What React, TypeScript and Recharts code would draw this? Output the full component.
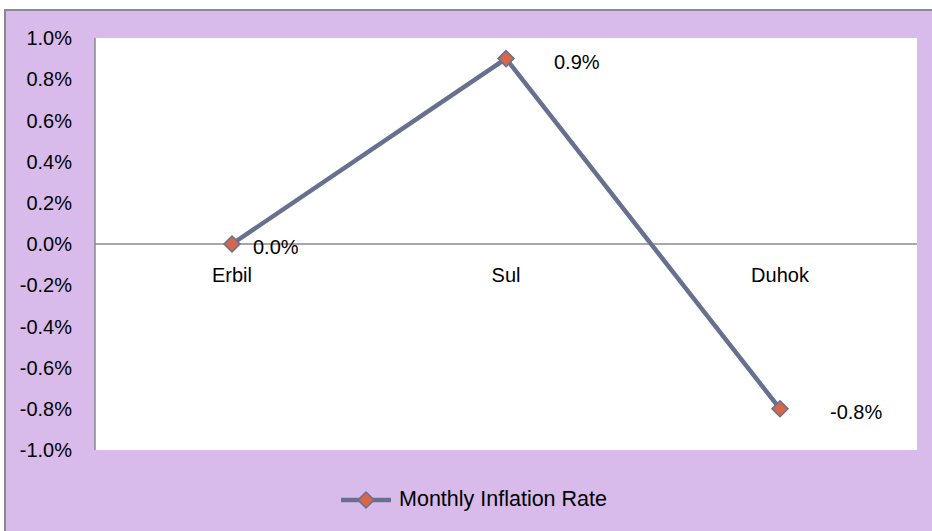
import { CartesianGrid, LabelList, Legend, Line, LineChart, ReferenceLine, XAxis, YAxis } from "recharts";

const regions = ["Erbil", "Sul", "Duhok"];
const inflationRates = [0.0, 0.9, -0.8];
const yTicks = [-1.0, -0.8, -0.6, -0.4, -0.2, 0.0, 0.2, 0.4, 0.6, 0.8, 1.0];
const seriesName = "Monthly Inflation Rate";

const chartData = regions.map((region, i) => ({ region, rate: inflationRates[i] }));

const FONT = "'Liberation Sans', Arial, sans-serif";
const LINE_COLOR = "#67708f";
const MARKER_COLOR = "#d5684a";
const labelGaps = [21, 48, 50];

const fmt = (v: number) => `${v.toFixed(1)}%`;

function Diamond({ cx, cy }: { cx?: number; cy?: number }) {
  if (cx == null || cy == null) return null;
  const r = 8;
  return (
    <polygon
      points={`${cx},${cy - r} ${cx + r},${cy} ${cx},${cy + r} ${cx - r},${cy}`}
      fill={MARKER_COLOR}
      stroke={LINE_COLOR}
      strokeWidth={1.5}
    />
  );
}

function RegionTick({ x, y, payload }: any) {
  // categories sit just under the zero line, not at the plot bottom
  return (
    <text x={x} y={y} dy={-168} textAnchor="middle" fontSize={20} fill="#000" fontFamily={FONT}>
      {payload.value}
    </text>
  );
}

function PointLabel({ x, y, value, index }: any) {
  return (
    <text x={x + labelGaps[index]} y={y + 10} textAnchor="start" fontSize={20} fill="#000" fontFamily={FONT}>
      {fmt(value)}
    </text>
  );
}

function LegendContent() {
  return (
    <div
      style={{
        display: "flex",
        justifyContent: "center",
        alignItems: "center",
        paddingLeft: 16,
        fontFamily: FONT,
        fontSize: 21.5,
      }}
    >
      <svg width={58} height={20}>
        <line x1={0} y1={10} x2={50} y2={10} stroke={LINE_COLOR} strokeWidth={4.5} />
        <Diamond cx={25} cy={10} />
      </svg>
      <span>{seriesName}</span>
    </div>
  );
}

export default function App() {
  return (
    <div style={{ position: "absolute", left: 0, top: 0, width: 932, height: 531, overflow: "hidden", background: "#fff" }}>
      <div
        style={{
          position: "absolute",
          left: 4,
          top: 9,
          width: 940,
          height: 540,
          border: "2px solid #8a8a8a",
          background: "#d8bbea",
        }}
      />
      <div style={{ position: "absolute", left: 0, top: 0 }}>
        <LineChart width={932} height={531} data={chartData} margin={{ top: 38, right: 15, bottom: 51, left: 0 }}>
          <CartesianGrid horizontal={false} vertical={false} fill="#ffffff" stroke="none" />
          <XAxis
            dataKey="region"
            scale="band"
            height={30}
            axisLine={false}
            tickLine={false}
            tickSize={0}
            tickMargin={0}
            interval={0}
            tick={<RegionTick />}
          />
          <YAxis
            width={95}
            domain={[-1, 1]}
            ticks={yTicks}
            interval={0}
            tickFormatter={fmt}
            axisLine={{ stroke: "#8a8a8a", strokeWidth: 1.5 }}
            tickLine={false}
            tickSize={0}
            tickMargin={23}
            tick={{ fontSize: 20, fill: "#000", fontFamily: FONT }}
          />
          <ReferenceLine y={0} stroke="#8a8a8a" strokeWidth={1.5} />
          <Legend
            verticalAlign="bottom"
            content={<LegendContent />}
            wrapperStyle={{ position: "absolute", top: 487, left: 0, width: 932, height: 0, overflow: "visible" }}
          />
          <Line
            type="linear"
            dataKey="rate"
            name={seriesName}
            stroke={LINE_COLOR}
            strokeWidth={4.5}
            dot={<Diamond />}
            activeDot={false}
            isAnimationActive={false}
          >
            <LabelList dataKey="rate" content={<PointLabel />} />
          </Line>
        </LineChart>
      </div>
    </div>
  );
}
